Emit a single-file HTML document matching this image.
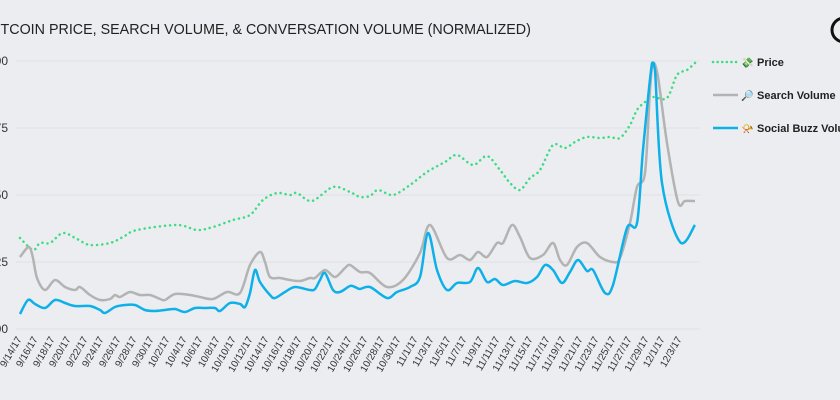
<!DOCTYPE html>
<html><head><meta charset="utf-8"><style>
body{margin:0;background:#ebedf0;}
svg{display:block;font-family:"Liberation Sans","DejaVu Sans",sans-serif;}
</style></head><body>
<svg id="s" width="840" height="400" viewBox="0 0 840 400" xmlns="http://www.w3.org/2000/svg">
<rect width="840" height="400" fill="#ebedf0"/>
<text x="-13" y="34" font-size="14.3" fill="#222">BITCOIN PRICE, SEARCH VOLUME, &amp; CONVERSATION VOLUME (NORMALIZED)</text>
<circle cx="844" cy="30" r="12" fill="none" stroke="#111" stroke-width="3"/>
<g stroke="#dfe1e5" stroke-width="1">
<line x1="16" y1="61" x2="700" y2="61"/><line x1="16" y1="128" x2="700" y2="128"/>
<line x1="16" y1="195" x2="700" y2="195"/><line x1="16" y1="262" x2="700" y2="262"/>
<line x1="16" y1="329" x2="700" y2="329"/>
</g>
<g font-size="12" fill="#333" text-anchor="end">
<text x="8" y="65">1.00</text><text x="8" y="132">0.75</text><text x="8" y="199">0.50</text><text x="8" y="266">0.25</text><text x="8" y="333">0.00</text>
</g>
<polyline class="sm" fill="none" stroke="#3ddc84" stroke-width="2.5" stroke-dasharray="0.1 5" stroke-linecap="round" points="20,238 33,250 40,243 50,243 63,233 77,239 90,245 110,243 123,237 137,230 177,225 197,230 213,227 233,220 250,215 263,200 277,193 290,195 297,193 312,201 333,187 350,192 360,197 370,196 378,190 393,195 410,185 427,172 445,162 457,155 473,165 487,156 500,170 510,183 520,190 530,178 540,170 553,145 565,148 575,142 587,137 600,138 610,137 620,138 630,125 637,110 645,102 653,97 667,98 677,75 687,70 695,63"/>
<polyline class="sm" fill="none" stroke="#b3b3b3" stroke-width="2.5" stroke-linejoin="round" points="20,257 27,248 30,248 33,258 37,278 45,290 55,280 65,287 75,290 80,287 90,295 100,300 110,299 115,295 120,297 130,292 140,295 150,295 160,299 165,300 175,294 190,295 200,297 213,299 227,292 240,293 250,265 260,252 265,262 270,277 280,278 290,280 300,281 310,278 315,278 325,270 335,277 345,268 350,265 360,272 370,273 387,287 403,280 420,253 430,225 447,258 460,255 470,260 478,252 487,257 497,243 503,243 512,225 520,237 530,258 543,255 553,243 560,260 567,265 577,247 587,243 600,257 613,262 620,258 630,223 637,187 645,173 650,90 653,63 658,77 667,143 678,202 685,201 695,201"/>
<polyline class="sm" fill="none" stroke="#0eb0ea" stroke-width="2.5" stroke-linejoin="round" points="20,314 28,300 35,304 45,308 55,300 65,303 75,306 90,306 100,310 105,313 115,307 125,305 135,305 145,310 155,311 165,310 175,309 185,312 195,308 205,308 215,308 220,311 230,303 240,304 245,307 250,293 255,270 260,282 270,295 275,298 285,292 295,287 310,290 315,289 320,280 325,273 333,290 340,292 350,286 355,287 360,289 370,287 387,298 397,292 410,287 420,277 428,233 437,270 447,290 457,283 470,282 478,268 487,282 495,279 503,285 515,281 527,283 537,277 545,265 553,270 562,283 570,272 578,260 587,271 593,270 605,293 613,285 627,228 637,223 643,150 652,63 655,70 662,183 680,242 695,225"/>
<g font-size="11" font-weight="bold" fill="#222">
<line x1="713" y1="62" x2="738" y2="62" stroke="#3ddc84" stroke-width="2.5" stroke-dasharray="0.1 4.5" stroke-linecap="round"/>
<text x="741" y="66" font-size="10">💸</text><text x="757" y="66">Price</text>
<line x1="713" y1="95" x2="738" y2="95" stroke="#b3b3b3" stroke-width="2.5"/>
<text x="741" y="99" font-size="10">🔎</text><text x="757" y="99">Search Volume</text>
<line x1="713" y1="128" x2="738" y2="128" stroke="#0eb0ea" stroke-width="2.5"/>
<text x="741" y="132" font-size="10">📯</text><text x="757" y="132">Social Buzz Volume</text>
</g>
<g font-size="10" fill="#333" text-anchor="end">
<text transform="translate(22,339) rotate(-60)">9/14/17</text>
<text transform="translate(38,339) rotate(-60)">9/16/17</text>
<text transform="translate(55,339) rotate(-60)">9/18/17</text>
<text transform="translate(71,339) rotate(-60)">9/20/17</text>
<text transform="translate(88,339) rotate(-60)">9/22/17</text>
<text transform="translate(104,339) rotate(-60)">9/24/17</text>
<text transform="translate(121,339) rotate(-60)">9/26/17</text>
<text transform="translate(137,339) rotate(-60)">9/28/17</text>
<text transform="translate(154,339) rotate(-60)">9/30/17</text>
<text transform="translate(170,339) rotate(-60)">10/2/17</text>
<text transform="translate(187,339) rotate(-60)">10/4/17</text>
<text transform="translate(203,339) rotate(-60)">10/6/17</text>
<text transform="translate(220,339) rotate(-60)">10/8/17</text>
<text transform="translate(236,339) rotate(-60)">10/10/17</text>
<text transform="translate(253,339) rotate(-60)">10/12/17</text>
<text transform="translate(269,339) rotate(-60)">10/14/17</text>
<text transform="translate(286,339) rotate(-60)">10/16/17</text>
<text transform="translate(302,339) rotate(-60)">10/18/17</text>
<text transform="translate(319,339) rotate(-60)">10/20/17</text>
<text transform="translate(335,339) rotate(-60)">10/22/17</text>
<text transform="translate(352,339) rotate(-60)">10/24/17</text>
<text transform="translate(368,339) rotate(-60)">10/26/17</text>
<text transform="translate(385,339) rotate(-60)">10/28/17</text>
<text transform="translate(401,339) rotate(-60)">10/30/17</text>
<text transform="translate(418,339) rotate(-60)">11/1/17</text>
<text transform="translate(434,339) rotate(-60)">11/3/17</text>
<text transform="translate(451,339) rotate(-60)">11/5/17</text>
<text transform="translate(467,339) rotate(-60)">11/7/17</text>
<text transform="translate(484,339) rotate(-60)">11/9/17</text>
<text transform="translate(500,339) rotate(-60)">11/11/17</text>
<text transform="translate(517,339) rotate(-60)">11/13/17</text>
<text transform="translate(533,339) rotate(-60)">11/15/17</text>
<text transform="translate(550,339) rotate(-60)">11/17/17</text>
<text transform="translate(566,339) rotate(-60)">11/19/17</text>
<text transform="translate(583,339) rotate(-60)">11/21/17</text>
<text transform="translate(599,339) rotate(-60)">11/23/17</text>
<text transform="translate(616,339) rotate(-60)">11/25/17</text>
<text transform="translate(632,339) rotate(-60)">11/27/17</text>
<text transform="translate(649,339) rotate(-60)">11/29/17</text>
<text transform="translate(665,339) rotate(-60)">12/1/17</text>
<text transform="translate(682,339) rotate(-60)">12/3/17</text>
</g>
</svg>
<script>
document.querySelectorAll('polyline.sm').forEach(function(pl){
  var p=pl.getAttribute('points').trim().split(/\s+/).map(function(s){return s.split(',').map(Number);});
  var d='M'+p[0][0]+','+p[0][1];
  function cl(y){return Math.max(62,y);}
  for(var i=0;i<p.length-1;i++){
    var p0=p[i-1]||p[i],p1=p[i],p2=p[i+1],p3=p[i+2]||p2,t=0.16;
    var c1x=p1[0]+(p2[0]-p0[0])*t,c1y=cl(p1[1]+(p2[1]-p0[1])*t);
    var c2x=p2[0]-(p3[0]-p1[0])*t,c2y=cl(p2[1]-(p3[1]-p1[1])*t);
    d+=' C'+c1x.toFixed(1)+','+c1y.toFixed(1)+' '+c2x.toFixed(1)+','+c2y.toFixed(1)+' '+p2[0]+','+p2[1];
  }
  var path=document.createElementNS('http://www.w3.org/2000/svg','path');
  for(var k=0;k<pl.attributes.length;k++){var a=pl.attributes[k];if(a.name!=='points'&&a.name!=='class')path.setAttribute(a.name,a.value);}
  path.setAttribute('d',d);
  pl.parentNode.replaceChild(path,pl);
});
</script>
</body></html>
